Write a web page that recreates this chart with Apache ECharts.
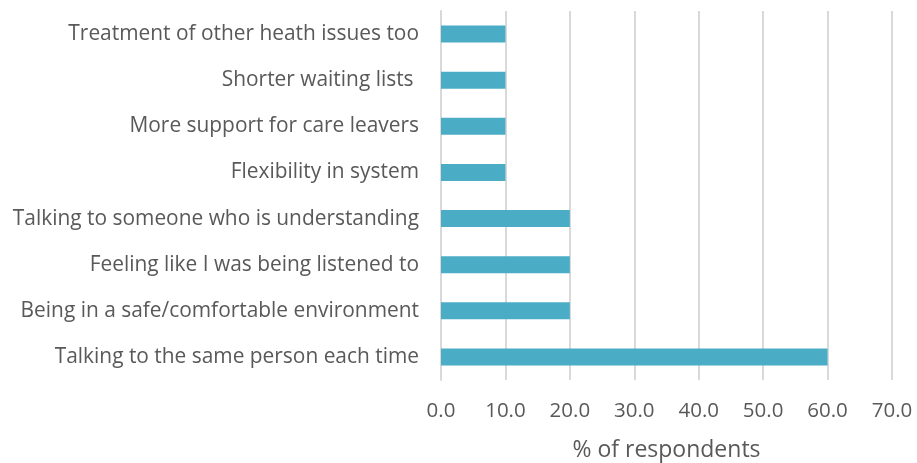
<!DOCTYPE html>
<html>
<head>
<meta charset="utf-8">
<script src="https://cdn.jsdelivr.net/npm/echarts@6/dist/echarts.min.js"></script>
<style>
  html, body { margin: 0; padding: 0; background: #fff; }
  #main { width: 917px; height: 463px; }
</style>
</head>
<body>
<div id="main"></div>
<script>
// 类目（从下到上）
var categories = [
    "Talking to the same person each time",
    "Being in a safe/comfortable environment",
    "Feeling like I was being listened to",
    "Talking to someone who is understanding",
    "Flexibility in system",
    "More support for care leavers",
    "Shorter waiting lists ",
    "Treatment of other heath issues too"
];
var respondentPct = [60, 20, 20, 20, 10, 10, 10, 10];
var xTicks = [0, 10, 20, 30, 40, 50, 60, 70];

var myChart = echarts.init(document.getElementById("main"));

var option = {
    animation: false,
    grid: { left: 441, right: 25, top: 11, bottom: 83, outerBoundsMode: "none" },
    xAxis: {
        type: "value",
        min: xTicks[0],
        max: xTicks[xTicks.length - 1],
        interval: 10,
        name: "% of respondents",
        nameLocation: "middle",
        nameGap: 59,
        nameTextStyle: { color: "#595959", fontSize: 23, fontFamily: "Open Sans" },
        axisLine: { show: false },
        axisTick: { show: false },
        axisLabel: {
            color: "#595959",
            fontSize: 20.5,
            fontFamily: "Open Sans",
            margin: 21,
            formatter: function (v) { return v.toFixed(1); }
        },
        splitLine: { show: true, lineStyle: { color: "#d9d9d9", width: 2 } }
    },
    yAxis: {
        type: "category",
        data: categories,
        axisLine: { show: true, lineStyle: { color: "#d9d9d9", width: 2 } },
        axisTick: { show: false },
        axisLabel: {
            color: "#595959",
            fontSize: 20.9,
            fontFamily: "Open Sans",
            margin: 22
        }
    },
    series: [
        {
            name: "% of respondents",
            type: "bar",
            data: respondentPct,
            barWidth: 17,
            itemStyle: { color: "#4bacc6" }
        }
    ]
};

myChart.setOption(option);
</script>
</body>
</html>
